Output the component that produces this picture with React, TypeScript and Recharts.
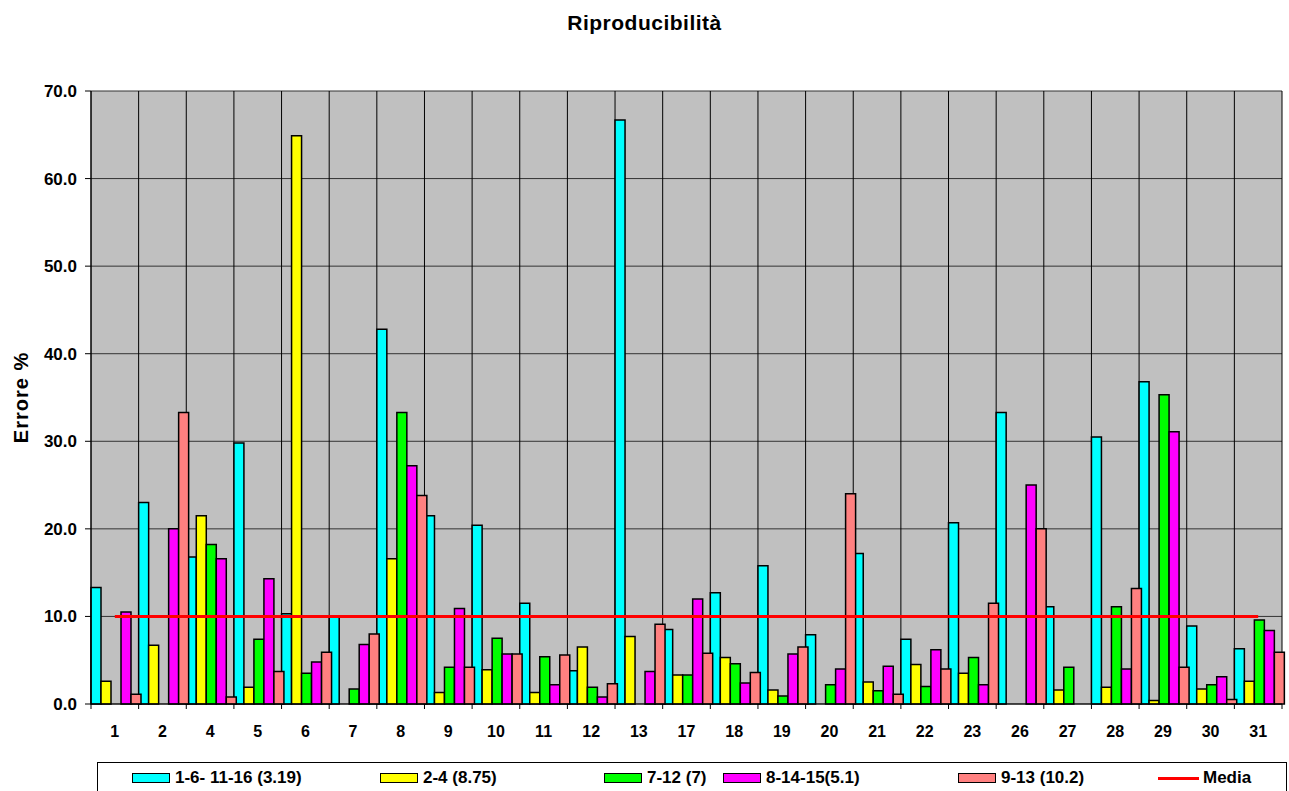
import { Bar, CartesianGrid, ComposedChart, Legend, Line, XAxis, YAxis } from 'recharts';

const categories = ['1', '2', '4', '5', '6', '7', '8', '9', '10', '11', '12', '13', '17', '18', '19', '20', '21', '22', '23', '26', '27', '28', '29', '30', '31'];

const serie1 = [13.3, 23.0, 16.8, 29.8, 10.3, 10.0, 42.8, 21.5, 20.4, 11.5, 3.8, 66.7, 8.5, 12.7, 15.8, 7.9, 17.2, 7.4, 20.7, 33.3, 11.1, 30.5, 36.8, 8.9, 6.3];
const serie2 = [2.6, 6.7, 21.5, 1.9, 64.9, 0, 16.6, 1.3, 3.9, 1.3, 6.5, 7.7, 3.3, 5.3, 1.6, 0, 2.5, 4.5, 3.5, 0, 1.6, 1.9, 0.4, 1.7, 2.6];
const serie3 = [0, 0, 18.2, 7.4, 3.5, 1.7, 33.3, 4.2, 7.5, 5.4, 1.9, 0, 3.3, 4.6, 0.9, 2.2, 1.5, 2.0, 5.3, 0, 4.2, 11.1, 35.3, 2.2, 9.6];
const serie4 = [10.5, 20.0, 16.6, 14.3, 4.8, 6.8, 27.2, 10.9, 5.7, 2.2, 0.8, 3.7, 12.0, 2.4, 5.7, 4.0, 4.3, 6.2, 2.2, 25.0, 0, 4.0, 31.1, 3.1, 8.4];
const serie5 = [1.1, 33.3, 0.8, 3.7, 5.9, 8.0, 23.8, 4.2, 5.7, 5.6, 2.3, 9.1, 5.8, 3.6, 6.5, 24.0, 1.1, 4.0, 11.5, 20.0, 0, 13.2, 4.2, 0.5, 5.9];
const mediaValue = 10;

const seriesNames = ['1-6- 11-16 (3.19)', '2-4 (8.75)', '7-12 (7)', '8-14-15(5.1)', '9-13 (10.2)', 'Media'];
const yTicks = [0, 10, 20, 30, 40, 50, 60, 70];

const colors = ['#00FFFF', '#FFFF00', '#00FF00', '#FF00FF', '#FF8080', '#FF0000'];
// posizioni delle voci nella legenda (px dal bordo del box)
const legendLeft = [34, 282, 506, 625, 860, 1060];

const FONT = '"Liberation Sans", Arial, sans-serif';

const data = categories.map((name, i) => ({
  name,
  s1: serie1[i],
  s2: serie2[i],
  s3: serie3[i],
  s4: serie4[i],
  s5: serie5[i],
  media: mediaValue,
}));

const XTick = (props: any) => {
  const { x, y, payload, width, visibleTicksCount, index } = props;
  const band = width && visibleTicksCount ? width / visibleTicksCount : 0;
  const axisY = y - 22;
  return (
    <g>
      {band > 0 && <line x1={x - band / 2} x2={x - band / 2} y1={axisY} y2={axisY + 5} stroke='#000' />}
      {band > 0 && index === visibleTicksCount - 1 && (
        <line x1={x + band / 2} x2={x + band / 2} y1={axisY} y2={axisY + 5} stroke='#000' />
      )}
      <text x={x} y={y} dy='0.71em' textAnchor='middle' fontFamily={FONT} fontWeight='bold' fontSize={16} fill='#000'>
        {payload.value}
      </text>
    </g>
  );
};

const LegendBox = (props: any) => {
  const payload = props.payload || [];
  return (
    <div
      style={{
        position: 'relative',
        width: 1190,
        height: 29,
        borderTop: '1px solid #000',
        borderLeft: '1px solid #000',
        borderRight: '1px solid #000',
        boxSizing: 'border-box',
        background: '#fff',
        fontFamily: FONT,
        fontWeight: 'bold',
        fontSize: 17,
        color: '#000',
      }}
    >
      {payload.map((p: any, i: number) => (
        <div
          key={p.value}
          style={{ position: 'absolute', left: legendLeft[i], top: 6, height: 18, display: 'flex', alignItems: 'center', whiteSpace: 'nowrap' }}
        >
          {p.type === 'line' ? (
            <span style={{ display: 'inline-block', width: 41, height: 3, background: p.color, marginRight: 4 }} />
          ) : (
            <span style={{ display: 'inline-block', width: 36, height: 8, background: p.color, border: '1px solid #000', marginRight: 5 }} />
          )}
          <span>{p.value}</span>
        </div>
      ))}
    </div>
  );
};

export default function App() {
  return (
    <div style={{ position: 'absolute', left: 0, top: 0, width: 1289, height: 791, overflow: 'hidden', background: '#fff' }}>
      <div
        style={{
          position: 'absolute',
          top: 11,
          left: 0,
          width: 1289,
          textAlign: 'center',
          fontFamily: FONT,
          fontWeight: 'bold',
          fontSize: 21,
          letterSpacing: 0.5,
          lineHeight: '24px',
        }}
      >
        Riproducibilità
      </div>
      <ComposedChart
        width={1289}
        height={791}
        data={data}
        margin={{ top: 91, right: 7, bottom: 57, left: 0 }}
        barCategoryGap={0}
        barGap={0}
      >
        <CartesianGrid vertical={false} stroke='#333' fill='#C0C0C0' fillOpacity={1} />
        <CartesianGrid
          horizontal={false}
          stroke='#000'
          verticalCoordinatesGenerator={({ offset }: any) =>
            Array.from({ length: categories.length + 1 }, (_, i) => offset.left + (i * offset.width) / categories.length)
          }
        />
        <XAxis
          dataKey='name'
          axisLine={{ stroke: '#000' }}
          tickLine={false}
          tickSize={6}
          tickMargin={16}
          interval={0}
          tick={<XTick />}
        />
        <YAxis
          width={91}
          domain={[0, 70]}
          ticks={yTicks}
          tickFormatter={(v: number) => v.toFixed(1)}
          axisLine={{ stroke: '#000' }}
          tickLine={{ stroke: '#000' }}
          tickSize={6}
          tickMargin={8}
          tick={{ fill: '#000', fontFamily: FONT, fontWeight: 'bold', fontSize: 17 }}
          label={{
            value: 'Errore %',
            angle: -90,
            position: 'center',
            dx: -25,
            style: { fill: '#000', fontFamily: FONT, fontWeight: 'bold', fontSize: 20, letterSpacing: 1, textAnchor: 'middle' },
          }}
        />
        <Legend
          layout='horizontal'
          verticalAlign='middle'
          align='center'
          wrapperStyle={{ left: 97, top: 762, width: 1190, height: 29 }}
          content={<LegendBox />}
        />
        <Bar dataKey='s1' name={seriesNames[0]} fill={colors[0]} stroke='#000' strokeWidth={1.5} isAnimationActive={false} />
        <Bar dataKey='s2' name={seriesNames[1]} fill={colors[1]} stroke='#000' strokeWidth={1.5} isAnimationActive={false} />
        <Bar dataKey='s3' name={seriesNames[2]} fill={colors[2]} stroke='#000' strokeWidth={1.5} isAnimationActive={false} />
        <Bar dataKey='s4' name={seriesNames[3]} fill={colors[3]} stroke='#000' strokeWidth={1.5} isAnimationActive={false} />
        <Bar dataKey='s5' name={seriesNames[4]} fill={colors[4]} stroke='#000' strokeWidth={1.5} isAnimationActive={false} />
        <Line
          type='linear'
          dataKey='media'
          name={seriesNames[5]}
          stroke={colors[5]}
          strokeWidth={3}
          dot={false}
          activeDot={false}
          legendType='line'
          isAnimationActive={false}
        />
      </ComposedChart>
    </div>
  );
}
